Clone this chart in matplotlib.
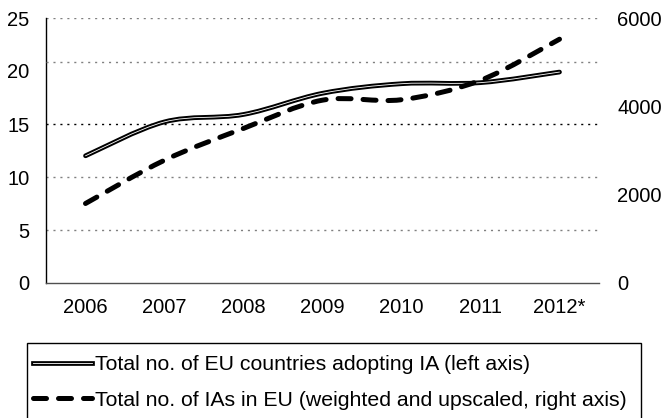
import numpy as np
import matplotlib
matplotlib.use("Agg")
import matplotlib.pyplot as plt
from matplotlib.path import Path
from matplotlib.patches import PathPatch, Rectangle
from matplotlib.lines import Line2D
import matplotlib.patheffects as pe

plt.rcParams['font.family'] = ['Liberation Sans', 'DejaVu Sans']

years = ['2006', '2007', '2008', '2009', '2010', '2011', '2012*']
countries = [12.0, 15.2, 15.9, 17.9, 18.8, 18.9, 19.9]       # left axis
ias = [1800, 2780, 3500, 4140, 4150, 4590, 5520]             # right axis

label_countries = 'Total no. of EU countries adopting IA (left axis)'
label_ias = 'Total no. of IAs in EU (weighted and upscaled, right axis)'


def smooth_path(xs, ys):
    # excel-like smoothed line: cubic bezier through each point
    pts = np.column_stack([xs, ys]).astype(float)
    n = len(pts)
    verts = [pts[0]]
    codes = [Path.MOVETO]
    for i in range(n - 1):
        p0 = pts[i - 1] if i > 0 else pts[i]
        p1 = pts[i]
        p2 = pts[i + 1]
        p3 = pts[i + 2] if i + 2 < n else pts[i + 1]
        c1 = p1 + (p2 - p0) / 6.0
        c2 = p2 - (p3 - p1) / 6.0
        verts += [c1, c2, p2]
        codes += [Path.CURVE4] * 3
    return Path(verts, codes)


fig = plt.figure(figsize=(6.62, 4.18), dpi=100)
ax = fig.add_axes([46 / 662, 1 - 283 / 418, (599 - 46) / 662, (283 - 18) / 418])
ax2 = ax.twinx()

x = np.arange(len(years))
ax.set_xlim(-0.5, len(years) - 0.5)
ax.set_ylim(0, 25)
ax2.set_ylim(0, 6000)

# gridlines
grid_style = dict(linestyle=(0, (1.5, 3.5)), linewidth=1.0, zorder=0)
for v in [5, 10, 25]:
    ax.axhline(v, color='#808080', **grid_style)
ax.axhline(15, color='black', **grid_style)
ax2.axhline(5000, color='#808080', **grid_style)

# double (outlined) line for countries
double = [pe.Stroke(linewidth=3.4, foreground='black'), pe.Normal()]
p1 = PathPatch(smooth_path(x, countries), facecolor='none', edgecolor='white',
               linewidth=0.6, capstyle='round', zorder=3)
p1.set_path_effects(double)
ax.add_patch(p1)

# dashed line for IAs
dash = (0, (2.6, 2.4))
p2 = PathPatch(smooth_path(x, ias), facecolor='none', edgecolor='black',
               linewidth=3.6, linestyle=dash, capstyle='round', zorder=3)
ax2.add_patch(p2)

ax.set_xticks(x)
ax.set_xticklabels(years)
ax.set_yticks([0, 5, 10, 15, 20, 25])
ax2.set_yticks([0, 2000, 4000, 6000])
ax.tick_params(axis='x', length=0, pad=11, labelsize=14.5)
ax.tick_params(axis='y', length=0, pad=12, labelsize=14.5)
ax2.tick_params(axis='y', length=0, pad=13, labelsize=14.5)

for a in (ax, ax2):
    for s in a.spines.values():
        s.set_visible(False)
ax.spines['left'].set_visible(True)
ax.spines['left'].set_color('black')
ax.spines['left'].set_linewidth(1.0)
ax.spines['bottom'].set_visible(True)
ax.spines['bottom'].set_color('#505050')
ax.spines['bottom'].set_linewidth(1.0)

# legend with a box running off the bottom of the figure
box = Rectangle((27 / 662, 1 - 425 / 418), (641 - 27) / 662, (425 - 343) / 418,
                transform=fig.transFigure, facecolor='white', edgecolor='black',
                linewidth=1.0, clip_on=False)
fig.add_artist(box)

h1 = Line2D([], [], color='white', linewidth=0.6, path_effects=double)
h2 = Line2D([], [], color='black', linewidth=3.6, linestyle=dash,
            dash_capstyle='round')
fig.legend([h1, h2], [label_countries, label_ias], loc='upper left',
           bbox_to_anchor=(33 / 662, 1 - 355 / 418), borderaxespad=0,
           frameon=False, fontsize=15.3, handlelength=2.78, handletextpad=0.14,
           labelspacing=0.78, borderpad=0)

fig.savefig('out.png', dpi=100)
